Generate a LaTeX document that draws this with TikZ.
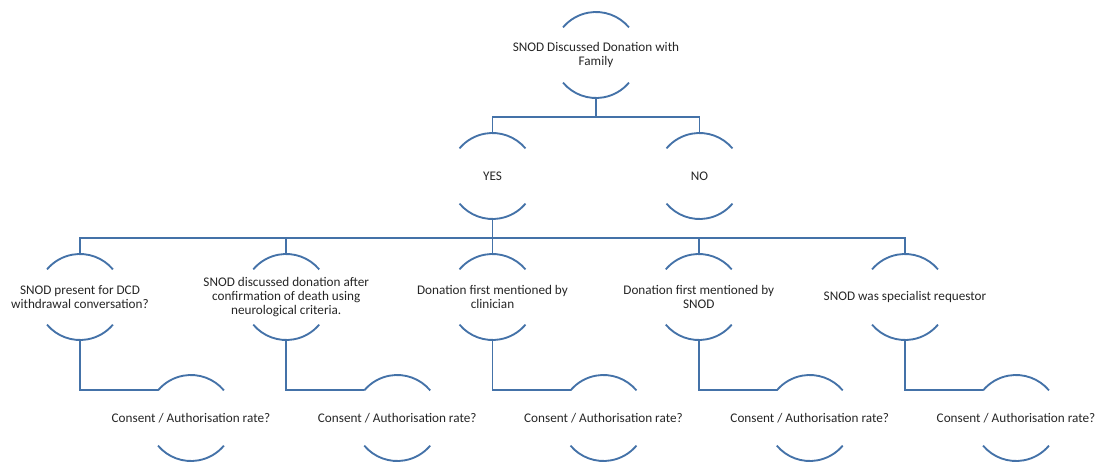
\documentclass[tikz,border=0pt]{standalone}
\usepackage{fontspec}
\setmainfont{Carlito}
\usepackage{tikz}
\usetikzlibrary{positioning}
\definecolor{smartblue}{RGB}{68,114,168}

\begin{document}
\begin{tikzpicture}[every node/.style = { shape = circle, minimum size = 64.5pt, inner sep = 0pt, outer sep = 0pt },
    txt/.style = { font = \fontsize{9.9}{10.8}\selectfont, align = center, text = black!85 },
    conn/.style = { draw = smartblue, line width = 1.4pt },
    level distance = 90.75pt,
    level 1/.style = { sibling distance = 155.25pt },
    level 2/.style = { sibling distance = 154.7pt },
    level 3/.style = { edge from parent path = { (\tikzparentnode.south) |- (\tikzchildnode.140) } },
    edge from parent/.style = { conn },
    edge from parent path = { (\tikzparentnode.south) -- ++(0,-14pt) -| (\tikzchildnode.north) }]
    \useasboundingbox (-447pt,41.25pt) rectangle (375.75pt,-304.5pt);

    \node (root) [label = {[txt]center:{SNOD Discussed Donation with\\Family}}] {}
      child { node [label = {[txt]center:YES}] {}
        child { node [label = {[txt]center:{SNOD present for DCD\\withdrawal conversation?}}] {}
          child { node [xshift = 83.25pt, label = {[txt]center:{Consent / Authorisation rate?}}] {} } }
        child { node [label = {[txt]center:{SNOD discussed donation after\\confirmation of death using\\neurological criteria.}}] {}
          child { node [xshift = 83.25pt, label = {[txt]center:{Consent / Authorisation rate?}}] {} } }
        child { node [label = {[txt]center:{Donation first mentioned by\\clinician}}] {}
          child { node [xshift = 83.25pt, label = {[txt]center:{Consent / Authorisation rate?}}] {} } }
        child { node [label = {[txt]center:{Donation first mentioned by\\SNOD}}] {}
          child { node [xshift = 83.25pt, label = {[txt]center:{Consent / Authorisation rate?}}] {} } }
        child { node [label = {[txt]center:{SNOD was specialist requestor}}] {}
          child { node [xshift = 83.25pt, label = {[txt]center:{Consent / Authorisation rate?}}] {} } }
      }
      child { node [label = {[txt]center:NO}] {} };

    % upper and lower arcs round every node
    \foreach \n in {root, root-1, root-2, root-1-1, root-1-2, root-1-3, root-1-4, root-1-5,
                    root-1-1-1, root-1-2-1, root-1-3-1, root-1-4-1, root-1-5-1}
      \draw [conn] (\n.40) arc [start angle = 40, end angle = 140, radius = 32.25pt]
                   (\n.220) arc [start angle = 220, end angle = 320, radius = 32.25pt];
\end{tikzpicture}
\end{document}
